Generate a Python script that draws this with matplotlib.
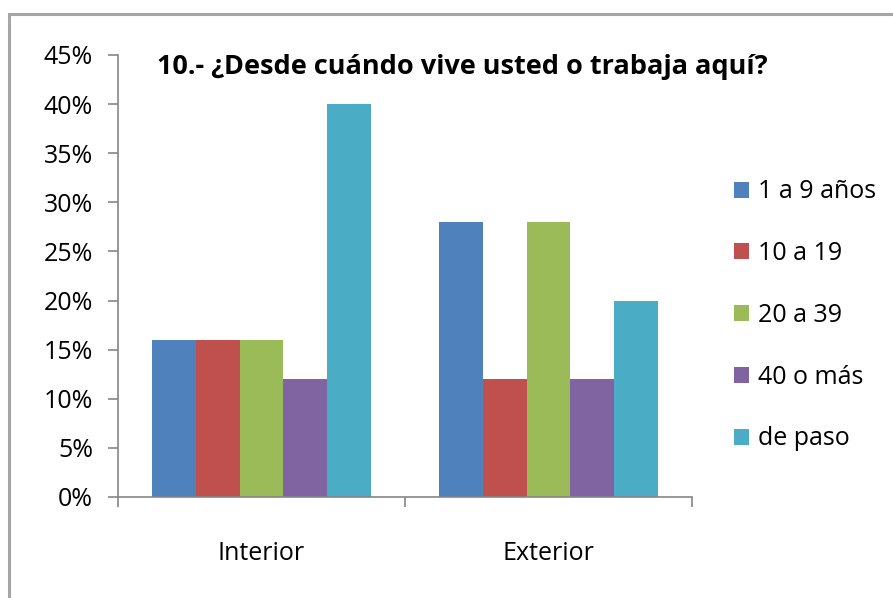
import numpy as np
import matplotlib.pyplot as plt
from matplotlib.patches import Rectangle
from matplotlib.ticker import PercentFormatter

plt.rcParams['font.family'] = ['Open Sans', 'DejaVu Sans']

# datos
categorias = ['Interior', 'Exterior']
series = ['1 a 9 años', '10 a 19', '20 a 39', '40 o más', 'de paso']
valores = [
    [16, 28],   # 1 a 9 años
    [16, 12],   # 10 a 19
    [16, 28],   # 20 a 39
    [12, 12],   # 40 o más
    [40, 20],   # de paso
]
colores = ['#4F81BD', '#C0504D', '#9BBB59', '#8064A2', '#4BACC6']

fig = plt.figure(figsize=(8.93, 5.98), dpi=100)
ax = fig.add_axes([118/893, 1 - 497/598, (692 - 118)/893, (497 - 55)/598])

# marco gris del grafico
fig.patches.append(Rectangle((9/893, -0.2), 1.2, 1.2 - 14/598,
                             transform=fig.transFigure, fill=False,
                             edgecolor='#A6A6A6', linewidth=2.2))

x = np.arange(len(categorias))
w = 0.1526
for i, (nombre, v) in enumerate(zip(series, valores)):
    ax.bar(x + (i - 2) * w, v, w, color=colores[i], label=nombre)

ax.set_xlim(-0.5, 1.5)
ax.set_ylim(0, 45)
ax.set_yticks(np.arange(0, 46, 5))
ax.yaxis.set_major_formatter(PercentFormatter(decimals=0))
ax.set_xticks([-0.5, 0.5, 1.5])
ax.set_xticklabels([])
ax.set_xticks(x, minor=True)
ax.set_xticklabels(categorias, minor=True)
ax.tick_params(axis='x', which='minor', length=0, pad=32, labelsize=18)
ax.tick_params(axis='x', which='major', length=7, color='#868686', width=1.2)
ax.tick_params(axis='y', length=7, color='#868686', width=1.2, labelsize=18, pad=11)

for s in ['top', 'right']:
    ax.spines[s].set_visible(False)
for s in ['left', 'bottom']:
    ax.spines[s].set_color('#868686')
    ax.spines[s].set_linewidth(1.2)

ax.text(157/893, 1 - 67/598, '10.- ¿Desde cuándo vive usted o trabaja aquí?',
        transform=fig.transFigure, fontsize=19.5, fontweight='bold', va='center')

ax.legend(loc='upper left', bbox_to_anchor=(711/893, 1 - 157/598),
          bbox_transform=fig.transFigure, frameon=False, fontsize=18,
          handlelength=0.6, handleheight=0.6, handletextpad=0.4,
          labelspacing=1.47)

fig.savefig('out.png', dpi=100)
